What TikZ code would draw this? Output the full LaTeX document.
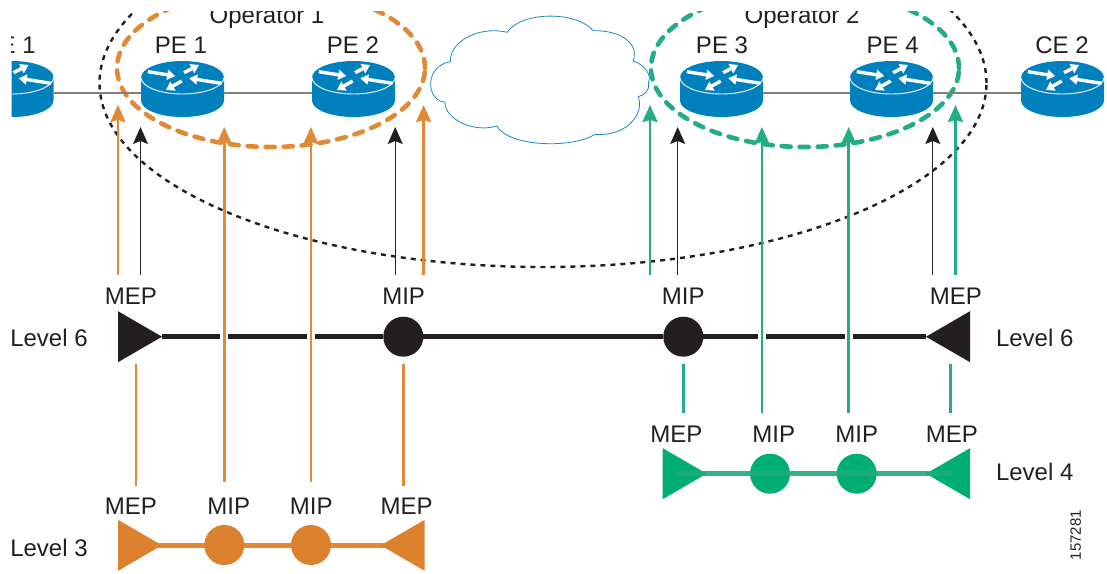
\documentclass[tikz,border=0pt]{standalone}
\usepackage{fontspec}
\setmainfont{Liberation Sans}
\usetikzlibrary{shapes.geometric,arrows.meta}
\definecolor{inkblack}{HTML}{231F20}
\definecolor{routerblue}{HTML}{0080BD}
\definecolor{cloudblue}{HTML}{1B87C4}
\definecolor{oporange}{HTML}{E08A35}
\definecolor{fillorange}{HTML}{DC812D}
\definecolor{opgreen}{HTML}{22AD87}
\definecolor{fillgreen}{HTML}{00AE72}
\definecolor{overgreen}{HTML}{1FA97F}
\tikzset{
	routericon/.pic={
		\fill[routerblue] (-41.5,-15.5) -- (-41.5,7.5) arc[start angle=180,end angle=360,x radius=41.5pt,y radius=16.5pt] -- (41.5,-15.5) arc[start angle=0,end angle=180,x radius=41.5pt,y radius=16.5pt] -- cycle;
		\draw[white,line width=0.9pt] (-41.5,-15.5) arc[start angle=180,end angle=360,x radius=41.5pt,y radius=16.5pt];
		\draw[routerarrow] (-34.7,-21.3) -- (-7.3,-17);
		\draw[routerarrow] (1.5,-20.3) -- (16.5,-28);
		\draw[routerarrow] (39,-9.7) -- (6.8,-14.7);
		\draw[routerarrow] (-0.8,-12) -- (-16.5,-3);
	},
	routerarrow/.style={white,line width=3.4pt,-{Triangle[length=8pt,width=10pt]}}
}

\begin{document}
\begin{tikzpicture}[x=1pt,y=-1pt]
	\tikzstyle{lbl}=[inner sep=0pt,text=inkblack,font=\fontsize{24}{28}\selectfont]
	\tikzstyle{routerbox}=[rectangle,inner sep=0pt,outer sep=0pt,minimum width=83pt,minimum height=48pt]
	\tikzstyle{opring}=[ellipse,inner sep=0pt,line width=4.6pt,line cap=round,dash pattern=on 9pt off 9pt,minimum width=308pt,minimum height=158pt]
	\tikzstyle{tri}=[isosceles triangle,isosceles triangle stretches,inner sep=0pt,outer sep=0pt,minimum width=51pt,minimum height=44pt,anchor=apex]
	\tikzstyle{triright}=[tri]
	\tikzstyle{trileft}=[tri,shape border rotate=180]
	\tikzstyle{dotnode}=[circle,inner sep=0pt,outer sep=0pt,minimum size=40pt]
	\tikzstyle{uparrow}=[line width=2.7pt,-{Stealth[length=17pt,width=15pt,inset=2pt]}]
	\tikzstyle{thinarrow}=[inkblack,line width=1.3pt,-{Stealth[length=17pt,width=15pt,inset=3pt]}]
	\tikzstyle{plainline}=[line width=2.7pt]

	\useasboundingbox (0,0) rectangle (1107,573);

	\begin{scope}
		\clip (11.5,11) rectangle (1107,573);
		\node[ellipse,draw=inkblack,inner sep=0pt,line width=2.4pt,dash pattern=on 5pt off 5pt,minimum width=887pt,minimum height=368pt] (opall) at (543,83) {};
		\node[opring,draw=oporange] (op1) at (271,68) {};
		\node[opring,draw=opgreen] (op2) at (805,68) {};
		\node[lbl,anchor=base] (op1lbl) at (267,23.3) {Operator 1};
		\node[lbl,anchor=base] (op2lbl) at (802,23.3) {Operator 2};
		\foreach \name/\x/\lx/\txt in {ce1/12/9/CE 1,pe1/182.5/181/PE 1,pe2/353.5/353/PE 2,pe3/721.5/722/PE 3,pe4/891.5/892.7/PE 4,ce2/1062.5/1062/CE 2}{
			\node[routerbox] (\name) at (\x,93) {};
			\pic at (\name) {routericon};
			\node[lbl] (\name lbl) at (\lx,45) {\txt};
		}
		\draw[gray,line width=1.3pt] (ce1) -- (pe1);
		\draw[gray,line width=1.3pt] (pe1) -- (pe2);
		\draw[gray,line width=1.3pt] (pe3) -- (pe4);
		\draw[gray,line width=1.3pt] (pe4) -- (ce2);
	\end{scope}

	\draw[cloudblue,line width=0.8pt] (507.3,32.3)
		.. controls (520,12) and (575,10) .. (593.3,30.7)
		.. controls (615,30) and (640,40) .. (633.3,61)
		.. controls (645,65) and (652,75) .. (648.3,83)
		.. controls (650,90) and (645,95) .. (638.3,96.7)
		.. controls (645,115) and (625,137) .. (595,134.3)
		.. controls (575,148) and (510,148) .. (496.7,126)
		.. controls (475,133) and (445,120) .. (445,102.3)
		.. controls (425,100) and (425,65) .. (450.7,61.7)
		.. controls (448,45) and (475,25) .. (507.3,32.3);

	\node[triright,fill=inkblack] (mep61) at (162,336.7) {};
	\node[trileft,fill=inkblack] (mep62) at (926,336.7) {};
	\node[dotnode,fill=inkblack] (mip61) at (403.3,336.7) {};
	\node[dotnode,fill=inkblack] (mip62) at (683.3,336.7) {};
	\draw[inkblack,line width=5.3pt] (mep61.apex) -- (mip61) -- (mip62) -- (mep62.apex);
	\foreach \x in {224.2,310.9,761.9,848.7}{
		\fill[white] (\x-4.2,332) rectangle (\x+4.2,342);
	}

	\draw[oporange,line width=5pt] (140,545) -- (402,545);
	\node[triright,fill=fillorange] (mep31) at (162,545.3) {};
	\node[trileft,fill=fillorange] (mep32) at (380.7,545.3) {};
	\node[dotnode,fill=fillorange] (mip31) at (224.3,545) {};
	\node[dotnode,fill=fillorange] (mip32) at (311,545) {};

	\node[triright,fill=fillgreen] (mep41) at (706.7,473.7) {};
	\node[trileft,fill=fillgreen] (mep42) at (926,473.7) {};
	\node[dotnode,fill=fillgreen] (mip41) at (770,473.7) {};
	\node[dotnode,fill=fillgreen] (mip42) at (856.7,473.7) {};
	\coordinate (g4a) at (677.7,473.7);
	\coordinate (g4b) at (950,473.7);
	\draw[overgreen,opacity=0.9,line width=5pt,line cap=round] (g4a) -- (g4b);

	\foreach \name/\x/\y/\txt in {a/131/296.5/MEP,b/403.6/296.5/MIP,c/683.3/296.5/MIP,d/955.8/296.5/MEP,e/131/506.5/MEP,f/228.7/506.5/MIP,g/311.3/506.5/MIP,h/406.7/506.5/MEP,i/676.3/434.3/MEP,j/773.8/434.3/MIP,k/856.7/434.3/MIP,l/951.8/434.3/MEP}{
		\node[lbl] (tag\name) at (\x,\y) {\txt};
	}
	\foreach \name/\x/\y/\txt in {a/49/337.7/Level 6,b/49/547.7/Level 3,c/1034.7/337.7/Level 6,d/1034.7/472.3/Level 4}{
		\node[lbl] (lvl\name) at (\x,\y) {\txt};
	}
	\node[inner sep=0pt,text=inkblack,rotate=90,font=\fontsize{15}{18}\selectfont] (figno) at (1075.7,535) {157281};

	\foreach \name/\x/\ya/\yb in {a/118/275/105,b/224.2/481.7/127,c/310.9/481.7/127,d/423.6/275/105}{
		\coordinate (oa\name) at (\x,\ya);
		\coordinate (ob\name) at (\x,\yb);
		\draw[uparrow,oporange] (oa\name) -- (ob\name);
	}
	\foreach \name/\x/\ya/\yb in {a/650/275/105,b/761.9/412.7/127,c/848.7/412.7/127,d/955.5/275/105}{
		\coordinate (ga\name) at (\x,\ya);
		\coordinate (gb\name) at (\x,\yb);
		\draw[uparrow,opgreen] (ga\name) -- (gb\name);
	}
	\foreach \name/\x in {a/140.5,b/395.2,c/677.7,d/932.8}{
		\coordinate (ka\name) at (\x,275);
		\coordinate (kb\name) at (\x,127);
		\draw[thinarrow] (ka\name) -- (kb\name);
	}
	\foreach \name/\x in {a/136,b/403.2}{
		\coordinate (pa\name) at (\x,364);
		\coordinate (pb\name) at (\x,485.7);
		\draw[plainline,oporange] (pa\name) -- (pb\name);
	}
	\foreach \name/\x in {a/683.3,b/950.4}{
		\coordinate (qa\name) at (\x,364);
		\coordinate (qb\name) at (\x,412.7);
		\draw[plainline,opgreen] (qa\name) -- (qb\name);
	}
\end{tikzpicture}
\end{document}
